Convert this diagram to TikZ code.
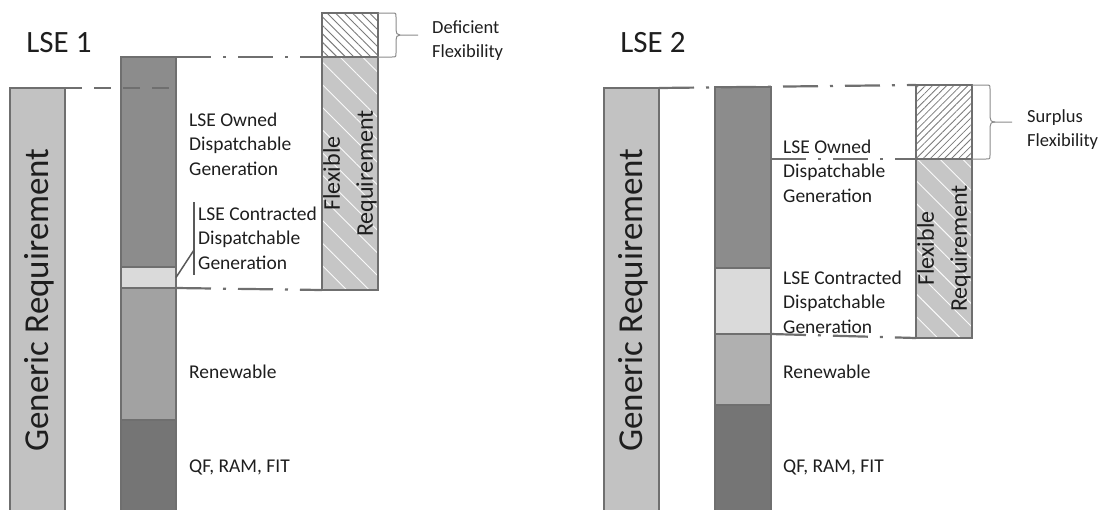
\documentclass[tikz,border=0pt]{standalone}
\usepackage{fontspec}
\setmainfont{Carlito}
\usetikzlibrary{patterns.meta}
\definecolor{edgegray}{HTML}{6F6F6F}
\definecolor{gencol}{HTML}{C2C2C2}
\definecolor{owncol}{HTML}{8C8C8C}
\definecolor{concol}{HTML}{DADADA}
\definecolor{rencol}{HTML}{A2A2A2}
\definecolor{qfcol}{HTML}{757575}
\definecolor{flexcol}{HTML}{C6C6C6}
\definecolor{hatchcol}{HTML}{7A7A7A}
\definecolor{bracecol}{HTML}{8A8A8A}
\definecolor{txtcol}{HTML}{1E1E1E}
\tikzset{
  bar/.style={draw=edgegray, line width=1.3pt, inner sep=0pt, outer sep=0pt, anchor=north west},
  flexbar/.style={bar, preaction={fill=flexcol},
     pattern={Lines[angle=-45,distance=16pt,line width=0.9pt]}, pattern color=white!92!flexcol},
  defhatch/.style={bar, preaction={fill=white},
     pattern={Lines[angle=-45,distance=6pt,line width=0.9pt]}, pattern color=hatchcol},
  surhatch/.style={bar, preaction={fill=white},
     pattern={Lines[angle=45,distance=5pt,line width=0.8pt]}, pattern color=hatchcol},
  lbl/.style={font=\fontsize{19.5}{24.5}\selectfont, align=left, anchor=west, inner sep=0pt, text=txtcol},
  smalllbl/.style={font=\fontsize{18.5}{24}\selectfont, align=left, anchor=west, inner sep=0pt, text=txtcol},
  title/.style={font=\fontsize{31}{36}\selectfont, inner sep=0pt, text=txtcol},
  gentext/.style={font=\fontsize{35}{40}\selectfont, rotate=90, inner sep=0pt, text=txtcol},
  flextext/.style={font=\fontsize{24}{33}\selectfont, rotate=90, align=center, inner sep=0pt, text=txtcol},
  dashline/.style={draw=edgegray, line width=2.2pt, dash pattern=on 17pt off 12pt},
  dashdotline/.style={draw=edgegray, line width=2.2pt, dash pattern=on 35pt off 12pt on 3pt off 12pt},
  bracket/.style={draw=edgegray!80!black, line width=1.5pt},
  bracestyle/.style={draw=bracecol, line width=1pt}
}
\begin{document}
\begin{tikzpicture}[x=1pt,y=-1pt]
\useasboundingbox (0,0) rectangle (1103,509);
% ---------------- LSE 1 ----------------
\node[title] (t1) at (59,43) {LSE 1};
\node[bar, fill=gencol, minimum width=55pt, minimum height=426pt] (gen1) at (10,88) {};
\node[gentext] (gt1) at (39,300) {Generic Requirement};
\node[bar, fill=owncol, minimum width=55pt, minimum height=210pt] (own1) at (121,57) {};
\node[bar, fill=concol, minimum width=55pt, minimum height=21pt] (con1) at (121,267) {};
\node[bar, fill=rencol, minimum width=55pt, minimum height=132pt] (ren1) at (121,288) {};
\node[bar, fill=qfcol, minimum width=55pt, minimum height=94pt] (qf1) at (121,420) {};
\node[defhatch, minimum width=56pt, minimum height=44pt] (def1) at (322,13) {};
\node[flexbar, minimum width=56pt, minimum height=233pt] (flex1) at (322,57) {};
\node[flextext] (ft1) at (flex1.center) {Flexible\\Requirement};
\draw[dashline] (gen1.north east) -- (own1.east |- gen1.north east);
\draw[dashdotline] (own1.north east) -- (flex1.north west);
\draw[dashdotline] (con1.south east) -- (flex1.south west);
\node[lbl] (l1own) at (189,144) {LSE Owned\\Dispatchable\\Generation};
\node[lbl] (l1con) at (198,238) {LSE Contracted\\Dispatchable\\Generation};
\node[lbl] (l1ren) at (189,372) {Renewable};
\node[lbl] (l1qf) at (189,467) {QF, RAM, FIT};
\coordinate (br1t) at (194,202);
\coordinate (br1b) at (194,275);
\coordinate (br1m) at (194,250);
\draw[bracket] (br1t) -- (br1b);
\draw[bracket] (br1m) -- (con1.east);
\coordinate (tip1) at (418,35);
\draw[bracestyle] (def1.north east) -- (392,13) .. controls (396,13) and (396,13) .. (396,17) -- (396,30) .. controls (396,33) and (397,35) .. (400,35) -- (tip1);
\draw[bracestyle] (def1.south east) -- (392,57) .. controls (396,57) and (396,57) .. (396,53) -- (396,40) .. controls (396,37) and (397,35) .. (400,35);
\node[smalllbl] (l1def) at (432,41) {Deficient\\Flexibility};
% ---------------- LSE 2 ----------------
\node[title] (t2) at (653,43) {LSE 2};
\node[bar, fill=gencol, minimum width=55pt, minimum height=426pt] (gen2) at (604,88) {};
\node[gentext] (gt2) at (633,300) {Generic Requirement};
\node[bar, fill=owncol, minimum width=56pt, minimum height=181pt] (own2) at (715,87) {};
\node[bar, fill=concol, minimum width=56pt, minimum height=66pt] (con2) at (715,268) {};
\node[bar, fill=rencol!85!white, minimum width=56pt, minimum height=71pt] (ren2) at (715,334) {};
\node[bar, fill=qfcol, minimum width=56pt, minimum height=109pt] (qf2) at (715,405) {};
\node[surhatch, minimum width=56pt, minimum height=74pt] (sur2) at (916,85) {};
\node[flexbar, minimum width=56pt, minimum height=179pt] (flex2) at (916,159) {};
\node[flextext] (ft2) at (flex2.center) {Flexible\\Requirement};
\draw[dashdotline] (gen2.north east) -- (sur2.north west);
\draw[dashdotline] (own2.east |- flex2.north west) -- (flex2.north west);
\draw[dashdotline] (con2.south east) -- (flex2.south west);
\node[lbl] (l2own) at (783,171) {LSE Owned\\Dispatchable\\Generation};
\node[lbl] (l2con) at (783,302) {LSE Contracted\\Dispatchable\\Generation};
\node[lbl] (l2ren) at (783,372) {Renewable};
\node[lbl] (l2qf) at (783,467) {QF, RAM, FIT};
\coordinate (tip2) at (1012,122);
\draw[bracestyle] (sur2.north east) -- (986,85) .. controls (990,85) and (990,85) .. (990,89) -- (990,117) .. controls (990,120) and (991,122) .. (995,122) -- (tip2);
\draw[bracestyle] (sur2.south east) -- (986,159) .. controls (990,159) and (990,159) .. (990,155) -- (990,127) .. controls (990,124) and (991,122) .. (995,122);
\node[smalllbl] (l2sur) at (1027,130) {Surplus\\Flexibility};
\end{tikzpicture}
\end{document}
